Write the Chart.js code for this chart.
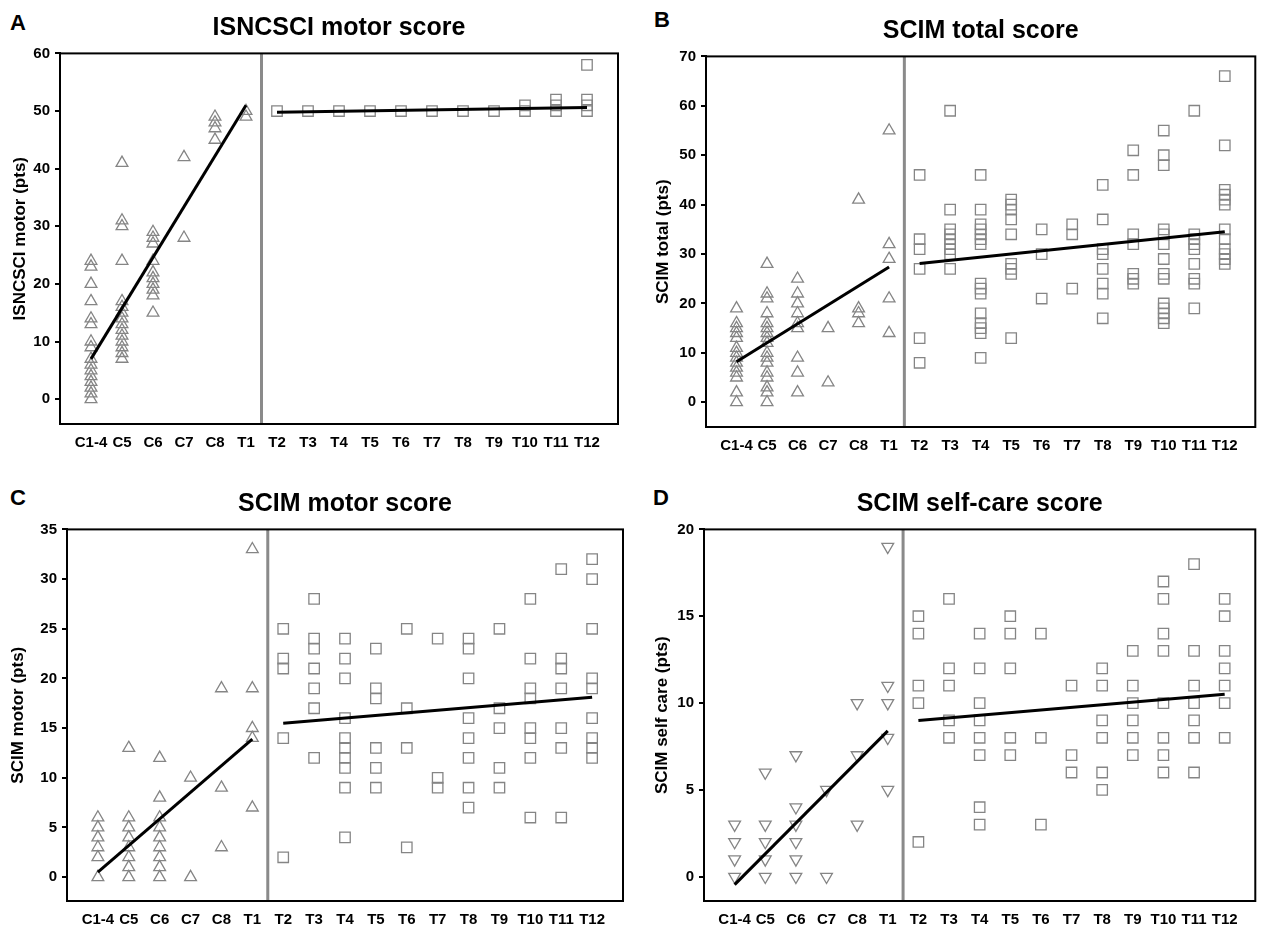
<!DOCTYPE html>
<html>
<head>
<meta charset="utf-8">
<script src="https://cdn.jsdelivr.net/npm/chart.js@4.4.0/dist/chart.umd.min.js"></script>
<style>
  body { margin: 0; background: #fff; width: 1264px; height: 929px; position: relative; overflow: hidden; font-family: "Liberation Sans", Arial, sans-serif; }
  canvas { position: absolute; }
  .letter { position: absolute; font-weight: bold; font-size: 22px; line-height: 22px; color: #000; }
</style>
</head>
<body>
<div class="letter" style="left:10px;top:12px">A</div>
<div class="letter" style="left:654px;top:9px">B</div>
<div class="letter" style="left:10px;top:487px">C</div>
<div class="letter" style="left:653px;top:487px">D</div>

<canvas id="chart-a" width="632" height="452" style="left:0;top:0"></canvas>
<canvas id="chart-b" width="632" height="452" style="left:632px;top:3px"></canvas>
<canvas id="chart-c" width="632" height="453" style="left:0;top:476px"></canvas>
<canvas id="chart-d" width="632" height="453" style="left:632px;top:476px"></canvas>

<script>
const levels = ['C1-4', 'C5', 'C6', 'C7', 'C8', 'T1', 'T2', 'T3', 'T4', 'T5', 'T6', 'T7', 'T8', 'T9', 'T10', 'T11', 'T12'];

// A - ISNCSCI motor score, one list per level
const isncsciMotor = [
  [24, 23, 20, 17, 14, 13, 10, 9, 7, 6, 5, 4, 3, 2, 1, 0],
  [41, 31, 30, 24, 17, 16, 15, 14, 13, 12, 11, 10, 9, 8, 7],
  [29, 28, 27, 24, 22, 21, 20, 19, 18, 15],
  [42, 28],
  [49, 48, 47, 45],
  [50, 49],
  [50], [50], [50], [50], [50], [50], [50], [50],
  [51, 50],
  [52, 51, 50],
  [58, 52, 51, 50]
];
const isncsciFitCervical = [7, 51];
const isncsciFitThoracic = [49.8, 50.6];
const isncsciTicks = [0, 10, 20, 30, 40, 50, 60];

// B - SCIM total score
const scimTotal = [
  [19, 16, 15, 14, 13, 11, 10, 9, 8, 7, 6, 5, 2, 0],
  [28, 22, 21, 18, 16, 15, 14, 13, 12, 10, 9, 8, 6, 5, 3, 2, 0],
  [25, 22, 20, 18, 16, 15, 9, 6, 2],
  [15, 4],
  [41, 19, 18, 16],
  [55, 32, 29, 21, 14],
  [46, 33, 31, 27, 13, 8],
  [59, 39, 35, 34, 33, 32, 31, 30, 27],
  [46, 39, 36, 35, 34, 33, 32, 24, 23, 22, 18, 16, 15, 14, 9],
  [41, 40, 39, 37, 34, 28, 27, 26, 13],
  [35, 30, 21],
  [36, 34, 23],
  [44, 37, 31, 30, 27, 24, 22, 17],
  [51, 46, 34, 32, 26, 25, 24],
  [55, 50, 48, 35, 34, 32, 29, 26, 25, 20, 19, 18, 17, 16],
  [59, 34, 33, 32, 31, 28, 25, 24, 19],
  [66, 52, 43, 42, 41, 40, 35, 33, 31, 30, 29, 28]
];
const scimTotalFitCervical = [8.2, 27.4];
const scimTotalFitThoracic = [28.1, 34.5];
const scimTotalTicks = [0, 10, 20, 30, 40, 50, 60, 70];

// C - SCIM motor score
const scimMotor = [
  [6, 5, 4, 3, 2, 0],
  [13, 6, 5, 4, 3, 2, 1, 0],
  [12, 8, 6, 5, 4, 3, 2, 1, 0],
  [10, 0],
  [19, 9, 3],
  [33, 19, 15, 14, 7],
  [25, 22, 21, 14, 2],
  [28, 24, 23, 21, 19, 17, 12],
  [24, 22, 20, 16, 14, 13, 12, 11, 9, 4],
  [23, 19, 18, 13, 11, 9],
  [25, 17, 13, 3],
  [24, 10, 9],
  [24, 23, 20, 16, 14, 12, 9, 7],
  [25, 17, 15, 11, 9],
  [28, 22, 19, 18, 15, 14, 12, 6],
  [31, 22, 21, 19, 15, 13, 6],
  [32, 30, 25, 20, 19, 16, 14, 13, 12]
];
const scimMotorFitCervical = [0.5, 13.9];
const scimMotorFitThoracic = [15.5, 18.1];
const scimMotorTicks = [0, 5, 10, 15, 20, 25, 30, 35];

// D - SCIM self-care score
const scimSelfCare = [
  [3, 2, 1, 0],
  [6, 3, 2, 1, 0],
  [7, 4, 3, 2, 1, 0],
  [5, 0],
  [10, 7, 3],
  [19, 11, 10, 8, 5],
  [15, 14, 11, 10, 2],
  [16, 12, 11, 9, 8],
  [14, 12, 10, 9, 8, 7, 4, 3],
  [15, 14, 12, 8, 7],
  [14, 8, 3],
  [11, 7, 6],
  [12, 11, 9, 8, 6, 5],
  [13, 11, 10, 9, 8, 7],
  [17, 16, 14, 13, 10, 8, 7, 6],
  [18, 13, 11, 10, 9, 8, 6],
  [16, 15, 13, 12, 11, 10, 8]
];
const scimSelfCareFitCervical = [-0.46, 8.4];
const scimSelfCareFitThoracic = [9.0, 10.5];
const scimSelfCareTicks = [0, 5, 10, 15, 20];

const lastCervical = levels.indexOf('T1');
const firstThoracic = levels.indexOf('T2');
const markerGrey = '#858585';
const fontFamily = '"Liberation Sans", Arial, sans-serif';
const tickFont = { family: fontFamily, size: 15, weight: 'bold' };

const frame = {
  id: 'frame',
  afterDraw(chart) {
    const { ctx, chartArea } = chart;
    ctx.save();
    ctx.strokeStyle = '#000';
    ctx.lineWidth = 2;
    ctx.strokeRect(chartArea.left, chartArea.top, chartArea.right - chartArea.left, chartArea.bottom - chartArea.top);
    ctx.restore();
  }
};

function makePanel(id, p) {
  const cervical = [];
  const thoracic = [];
  p.values.forEach((vals, i) => {
    vals.forEach(v => (i <= lastCervical ? cervical : thoracic).push({ x: i, y: v }));
  });

  new Chart(document.getElementById(id), {
    type: 'scatter',
    data: {
      datasets: [
        {
          data: [{ x: 0, y: p.fitC[0] }, { x: lastCervical, y: p.fitC[1] }],
          showLine: true, borderColor: '#000', borderWidth: 3, pointRadius: 0, order: 0
        },
        {
          data: [{ x: firstThoracic, y: p.fitT[0] }, { x: levels.length - 1, y: p.fitT[1] }],
          showLine: true, borderColor: '#000', borderWidth: 3, pointRadius: 0, order: 0
        },
        {
          data: cervical, pointStyle: 'triangle', rotation: p.down ? 180 : 0,
          pointRadius: 6.8, borderColor: markerGrey, backgroundColor: 'rgba(0,0,0,0)', borderWidth: 1.3, order: 1
        },
        {
          data: thoracic, pointStyle: 'rect',
          pointRadius: 7.4, borderColor: markerGrey, backgroundColor: 'rgba(0,0,0,0)', borderWidth: 1.3, order: 1
        },
        {
          data: [{ x: lastCervical + 0.5, y: p.min }, { x: lastCervical + 0.5, y: p.max }],
          showLine: true, borderColor: '#8a8a8a', borderWidth: 3, pointRadius: 0, order: 2
        }
      ]
    },
    options: {
      responsive: false,
      animation: false,
      layout: { padding: { right: p.rightPad } },
      plugins: {
        legend: { display: false },
        tooltip: { enabled: false },
        title: {
          display: true, text: p.title, fullSize: false, color: '#000',
          font: { family: fontFamily, size: 25, weight: 'bold' },
          padding: { top: 13, bottom: 10.4 }
        }
      },
      scales: {
        x: {
          type: 'linear', min: -1, max: levels.length,
          afterBuildTicks: s => { s.ticks = levels.map((_, i) => ({ value: i })); },
          afterFit: s => { s.height = 28; },
          ticks: { callback: v => levels[v], color: '#000', font: tickFont, padding: 10, autoSkip: false, maxRotation: 0 },
          grid: { display: false, drawTicks: false },
          border: { color: '#000', width: 2 }
        },
        y: {
          min: p.min, max: p.max,
          afterBuildTicks: s => { s.ticks = p.ticks.map(v => ({ value: v })); },
          afterFit: s => { s.width = p.axisWidth; },
          ticks: { color: '#000', font: tickFont, padding: 5 },
          grid: { drawOnChartArea: false, color: '#000', lineWidth: 2, tickLength: 5 },
          border: { color: '#000', width: 2 },
          title: {
            display: true, text: p.yTitle, color: '#000',
            font: { family: fontFamily, size: 17, weight: 'bold' },
            padding: { top: p.titlePad, bottom: 0 }
          }
        }
      }
    },
    plugins: [frame]
  });
}

makePanel('chart-a', {
  title: 'ISNCSCI motor score', yTitle: 'ISNCSCI motor (pts)',
  values: isncsciMotor, fitC: isncsciFitCervical, fitT: isncsciFitThoracic, ticks: isncsciTicks,
  min: -4.3, max: 60, axisWidth: 60, rightPad: 14, titlePad: 9.8
});
makePanel('chart-b', {
  title: 'SCIM total score', yTitle: 'SCIM total (pts)',
  values: scimTotal, fitC: scimTotalFitCervical, fitT: scimTotalFitThoracic, ticks: scimTotalTicks,
  min: -5, max: 70, axisWidth: 74, rightPad: 2, titlePad: 20.8
});
makePanel('chart-c', {
  title: 'SCIM motor score', yTitle: 'SCIM motor (pts)',
  values: scimMotor, fitC: scimMotorFitCervical, fitT: scimMotorFitThoracic, ticks: scimMotorTicks,
  min: -2.4, max: 35, axisWidth: 67, rightPad: 9, titlePad: 8.3
});
makePanel('chart-d', {
  title: 'SCIM self-care score', yTitle: 'SCIM self care (pts)',
  values: scimSelfCare, fitC: scimSelfCareFitCervical, fitT: scimSelfCareFitThoracic, ticks: scimSelfCareTicks,
  min: -1.4, max: 20, axisWidth: 72, rightPad: 2, titlePad: 20.3, down: true
});
</script>
</body>
</html>
